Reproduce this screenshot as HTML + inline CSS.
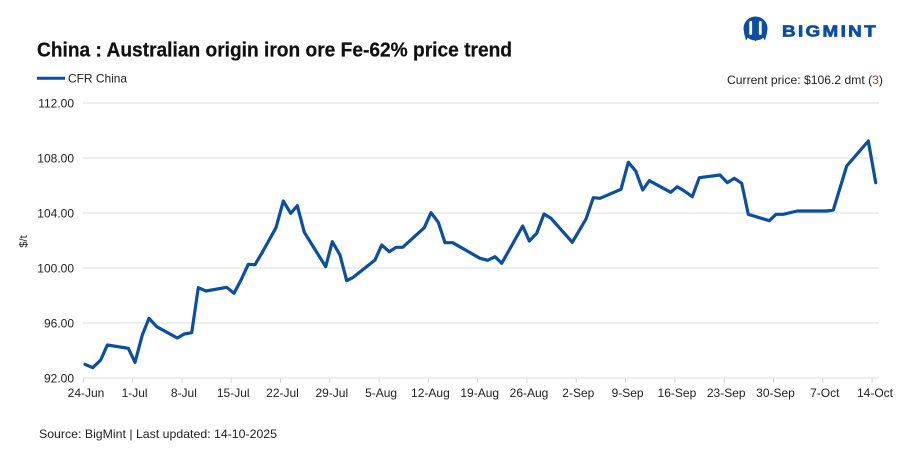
<!DOCTYPE html>
<html><head><meta charset="utf-8"><style>
html,body{margin:0;padding:0;background:#fff;}
svg{display:block;font-family:"Liberation Sans",Arial,sans-serif;}
</style></head><body>
<svg width="913" height="476" viewBox="0 0 913 476" xmlns="http://www.w3.org/2000/svg">
<rect width="913" height="476" fill="#fff"/>
<!-- logo -->
<g>
<circle cx="755.5" cy="28.5" r="12" fill="#0b4ea2"/>
<rect x="749.3" y="21" width="2.8" height="14" rx="1.4" fill="#fff"/>
<rect x="758.9" y="21" width="2.8" height="14" rx="1.4" fill="#fff"/>
<path d="M743.8 32 L746 40.5 L749.5 35 Z M767.2 32 L765 40.5 L761.5 35 Z" fill="#0b4ea2"/>
<path d="M752 35.5 L755.5 41.5 L759 35.5 Z" fill="#0b4ea2"/>
<text x="782" y="36.7" font-size="16" font-weight="bold" letter-spacing="2" fill="#0b4ea2" stroke="#0b4ea2" stroke-width="0.7" textLength="96" lengthAdjust="spacingAndGlyphs">BIGMINT</text>
</g>
<!-- title -->
<text x="37" y="56.7" font-size="20.5" font-weight="bold" fill="#111" stroke="#111" stroke-width="0.25" textLength="475" lengthAdjust="spacingAndGlyphs">China : Australian origin iron ore Fe-62% price trend</text>
<!-- legend -->
<line x1="37" y1="78.3" x2="65" y2="78.3" stroke="#0b4ea2" stroke-width="3"/>
<text x="68" y="82.5" font-size="12" fill="#222" textLength="59" lengthAdjust="spacingAndGlyphs">CFR China</text>
<text x="727" y="84" font-size="12" fill="#222" textLength="156" lengthAdjust="spacingAndGlyphs">Current price: $106.2 dmt (<tspan fill="#e0202a">3</tspan>)</text>
<!-- grid -->
<g stroke="#dedede" stroke-width="1">
<line x1="83" y1="103" x2="879" y2="103"/>
<line x1="83" y1="158" x2="879" y2="158"/>
<line x1="83" y1="213" x2="879" y2="213"/>
<line x1="83" y1="268" x2="879" y2="268"/>
<line x1="83" y1="323" x2="879" y2="323"/>
<line x1="83" y1="378" x2="879" y2="378"/>
</g>
<g stroke="#d4d4d4" stroke-width="1">
<line x1="83.3" y1="378" x2="83.3" y2="383"/>
<line x1="132.6" y1="378" x2="132.6" y2="383"/>
<line x1="181.9" y1="378" x2="181.9" y2="383"/>
<line x1="231.2" y1="378" x2="231.2" y2="383"/>
<line x1="280.5" y1="378" x2="280.5" y2="383"/>
<line x1="329.8" y1="378" x2="329.8" y2="383"/>
<line x1="379.1" y1="378" x2="379.1" y2="383"/>
<line x1="428.4" y1="378" x2="428.4" y2="383"/>
<line x1="477.7" y1="378" x2="477.7" y2="383"/>
<line x1="527" y1="378" x2="527" y2="383"/>
<line x1="576.3" y1="378" x2="576.3" y2="383"/>
<line x1="625.6" y1="378" x2="625.6" y2="383"/>
<line x1="674.9" y1="378" x2="674.9" y2="383"/>
<line x1="724.2" y1="378" x2="724.2" y2="383"/>
<line x1="773.5" y1="378" x2="773.5" y2="383"/>
<line x1="822.8" y1="378" x2="822.8" y2="383"/>
<line x1="872.1" y1="378" x2="872.1" y2="383"/>
</g>
<!-- y labels -->
<g font-size="12" fill="#222" text-anchor="end">
<text x="74" y="107.3">112.00</text>
<text x="74" y="162.3">108.00</text>
<text x="74" y="217.3">104.00</text>
<text x="74" y="272.3">100.00</text>
<text x="74" y="327.3">96.00</text>
<text x="74" y="382.3">92.00</text>
</g>
<text transform="translate(27,241.5) rotate(-90)" font-size="11" fill="#222" text-anchor="middle">$/t</text>
<!-- x labels -->
<g font-size="12" fill="#222" text-anchor="middle">
<text x="86" y="397">24-Jun</text>
<text x="134.6" y="397">1-Jul</text>
<text x="183.9" y="397">8-Jul</text>
<text x="233.2" y="397">15-Jul</text>
<text x="282.5" y="397">22-Jul</text>
<text x="331.8" y="397">29-Jul</text>
<text x="381.1" y="397">5-Aug</text>
<text x="430.4" y="397">12-Aug</text>
<text x="479.7" y="397">19-Aug</text>
<text x="529" y="397">26-Aug</text>
<text x="578.3" y="397">2-Sep</text>
<text x="627.6" y="397">9-Sep</text>
<text x="676.9" y="397">16-Sep</text>
<text x="726.2" y="397">23-Sep</text>
<text x="775.5" y="397">30-Sep</text>
<text x="824.8" y="397">7-Oct</text>
<text x="875" y="397">14-Oct</text>
</g>
<!-- series -->
<polyline fill="none" stroke="#0b4ea2" stroke-width="3.2" stroke-linejoin="round" stroke-linecap="round" points="
85,364.3 92.7,367.7 100.7,360 107.3,345 128.3,348.3 135,362.3 142.3,335 149,318.3 156.7,326.7 177.3,338 184.3,334 191.7,332.7 198.3,287.7 206,291 226.7,287.3 234,293.3 241,280 248.3,264.3 255,264.7 262.3,252.3 276,227.7 283.3,201 290.7,213.3 297.3,205.7 304.3,232.3 325.7,266.7 332.3,241.7 340,255 346.7,280.7 353.3,277.3 375,260 381.7,245 389.3,251.7 396,247.3 402.7,247.3 424.3,227.7 431,212.7 438.3,222.3 445,242.7 452.7,242.7 480,258.3 487.7,260.3 495,256.7 501.7,263.3 522.7,226 529.3,241 536.7,233.3 544,214 551,218.3 572.3,242.3 586,219 593.3,197.7 600,198.3 621,189.3 628.3,162.3 635.7,171 642.7,190 649.3,180.7 670.7,192.3 677.3,186.7 684.3,191 692.3,196.7 699.3,177.7 720,175 727.3,182.7 734.3,178.3 741.7,183.3 748.3,214.3 769.3,220.7 776,214.3 783.3,214.3 797.3,211 826.7,211 833.3,210 846.7,166 868.3,141 875.7,182.7"/>
<!-- source -->
<text x="39" y="438" font-size="12" fill="#222" textLength="238" lengthAdjust="spacingAndGlyphs">Source: BigMint | Last updated: 14-10-2025</text>
</svg>
</body></html>
